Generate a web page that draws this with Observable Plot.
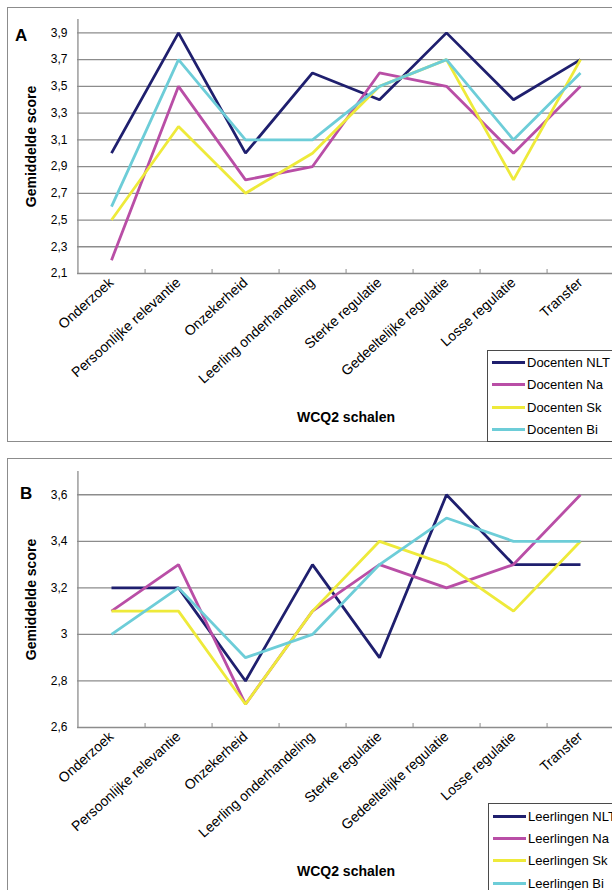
<!DOCTYPE html>
<html><head><meta charset="utf-8">
<script src="https://cdn.jsdelivr.net/npm/d3@7"></script>
<script src="https://cdn.jsdelivr.net/npm/@observablehq/plot@0.6"></script>
<style>
html,body{margin:0;padding:0;background:#fff;}
body{width:612px;height:890px;overflow:hidden;position:relative;font-family:"Liberation Sans",Arial,sans-serif;color:#000;}
.frame{position:absolute;border:1px solid #8c8c8c;box-sizing:border-box;pointer-events:none;}
.panel{position:absolute;left:0;}
.legend{position:absolute;border:1px solid #4a4a4a;background:#fff;box-sizing:border-box;width:200px;}
.legend .row{position:absolute;left:0;height:16px;margin-top:-8px;display:flex;align-items:center;font-size:13px;white-space:nowrap;}
.legend .sw{width:33px;height:3px;margin-left:4px;margin-right:2px;}
.letter{position:absolute;font-weight:bold;font-size:17px;line-height:1;}
</style></head>
<body>
<div id="A" class="panel" style="top:0"></div>
<div id="B" class="panel" style="top:450px"></div>
<div class="frame" style="left:7px;top:7px;width:700px;height:435px"></div>
<div class="frame" style="left:7px;top:458px;width:700px;height:500px"></div>
<div class="letter" style="left:15px;top:27px">A</div>
<div class="letter" style="left:20px;top:485px">B</div>
<div id="legA" class="legend" style="left:487px;top:350px;height:92px"></div>
<div id="legB" class="legend" style="left:488px;top:803px;height:100px"></div>
<script>
// ---- data ----
const categories = ["Onderzoek","Persoonlijke relevantie","Onzekerheid","Leerling onderhandeling","Sterke regulatie","Gedeeltelijke regulatie","Losse regulatie","Transfer"];

const seriesA = ["Docenten NLT","Docenten Na","Docenten Sk","Docenten Bi"];
const docentenNLT = [3.0, 3.9, 3.0, 3.6, 3.4, 3.9, 3.4, 3.7];
const docentenNa  = [2.2, 3.5, 2.8, 2.9, 3.6, 3.5, 3.0, 3.5];
const docentenSk  = [2.5, 3.2, 2.7, 3.0, 3.5, 3.7, 2.8, 3.7];
const docentenBi  = [2.6, 3.7, 3.1, 3.1, 3.5, 3.7, 3.1, 3.6];

const seriesB = ["Leerlingen NLT","Leerlingen Na","Leerlingen Sk","Leerlingen Bi"];
const leerlingenNLT = [3.2, 3.2, 2.8, 3.3, 2.9, 3.6, 3.3, 3.3];
const leerlingenNa  = [3.1, 3.3, 2.7, 3.1, 3.3, 3.2, 3.3, 3.6];
const leerlingenSk  = [3.1, 3.1, 2.7, 3.1, 3.4, 3.3, 3.1, 3.4];
const leerlingenBi  = [3.0, 3.2, 2.9, 3.0, 3.3, 3.5, 3.4, 3.4];

const ticksA = [2.1, 2.3, 2.5, 2.7, 2.9, 3.1, 3.3, 3.5, 3.7, 3.9];
const tickLabelsA = ["2,1","2,3","2,5","2,7","2,9","3,1","3,3","3,5","3,7","3,9"];
const ticksB = [2.6, 2.8, 3.0, 3.2, 3.4, 3.6];
const tickLabelsB = ["2,6","2,8","3","3,2","3,4","3,6"];

const colors = ["#1f1f6e","#b94ea6","#eeea3a","#6dcdd8"];
const yLabel = "Gemiddelde score";
const xLabel = "WCQ2 schalen";

// ---- chart ----
const W = 640, ML = 77, MR = 26;
const step = (W - ML - MR) / categories.length;
const font = "'Liberation Sans', Arial, sans-serif";
const grid = "#8c8c8c";

function chart({names, values, domain, ticks, labels, height, marginTop, marginBottom}) {
  const data = [];
  names.forEach((s, j) => categories.forEach((c, i) => data.push({series: s, cat: c, value: values[j][i]})));
  const innerH = height - marginTop - marginBottom;
  return Plot.plot({
    width: W, height, marginLeft: ML, marginRight: MR, marginTop, marginBottom,
    style: {maxWidth: "none", background: "transparent", overflow: "visible", fontFamily: font, color: "#000"},
    x: {type: "point", domain: categories, padding: 0.5, axis: null},
    y: {domain, axis: null},
    color: {domain: names, range: colors},
    marks: [
      Plot.ruleY(ticks, {stroke: grid, strokeWidth: 1.3}),
      Plot.ruleX([categories[0]], {dx: -step / 2, stroke: grid, strokeWidth: 1.3}),
      Plot.ruleX(categories.slice(0, -1), {dx: step / 2, insetTop: innerH - 4, stroke: grid, strokeWidth: 1}),
      Plot.line(data, {x: "cat", y: "value", z: "series", stroke: "series", strokeWidth: 2.8, strokeLinejoin: "miter", strokeLinecap: "butt"}),
      Plot.axisY(ticks, {tickSize: 0, tickPadding: 10, fontSize: 12, label: null, tickFormat: d => labels[ticks.indexOf(d)]}),
      Plot.axisX({tickSize: 0, tickPadding: 7, tickRotate: -42, fontSize: 14, label: null}),
      Plot.text([yLabel], {frameAnchor: "left", dx: -46, rotate: -90, textAnchor: "middle", lineAnchor: "middle", fontWeight: "bold", fontSize: 14}),
      Plot.text([xLabel], {frameAnchor: "bottom", dy: 144, textAnchor: "middle", lineAnchor: "middle", fontWeight: "bold", fontSize: 14})
    ]
  });
}

document.getElementById("A").append(chart({
  names: seriesA, values: [docentenNLT, docentenNa, docentenSk, docentenBi],
  domain: [2.1, 4.0], ticks: ticksA, labels: tickLabelsA,
  height: 450, marginTop: 19, marginBottom: 177
}));
document.getElementById("B").append(chart({
  names: seriesB, values: [leerlingenNLT, leerlingenNa, leerlingenSk, leerlingenBi],
  domain: [2.6, 3.7], ticks: ticksB, labels: tickLabelsB,
  height: 440, marginTop: 21, marginBottom: 163
}));

function legend(id, names, offsets) {
  const el = document.getElementById(id);
  names.forEach((n, i) => {
    const row = document.createElement("div");
    row.className = "row";
    row.style.top = offsets[i] + "px";
    const sw = document.createElement("span");
    sw.className = "sw"; sw.style.background = colors[i];
    const t = document.createElement("span");
    t.textContent = n;
    row.append(sw, t);
    el.append(row);
  });
}
legend("legA", seriesA, [11, 33, 56, 78]);
legend("legB", seriesB, [12, 34, 56, 79]);
</script>
</body></html>
